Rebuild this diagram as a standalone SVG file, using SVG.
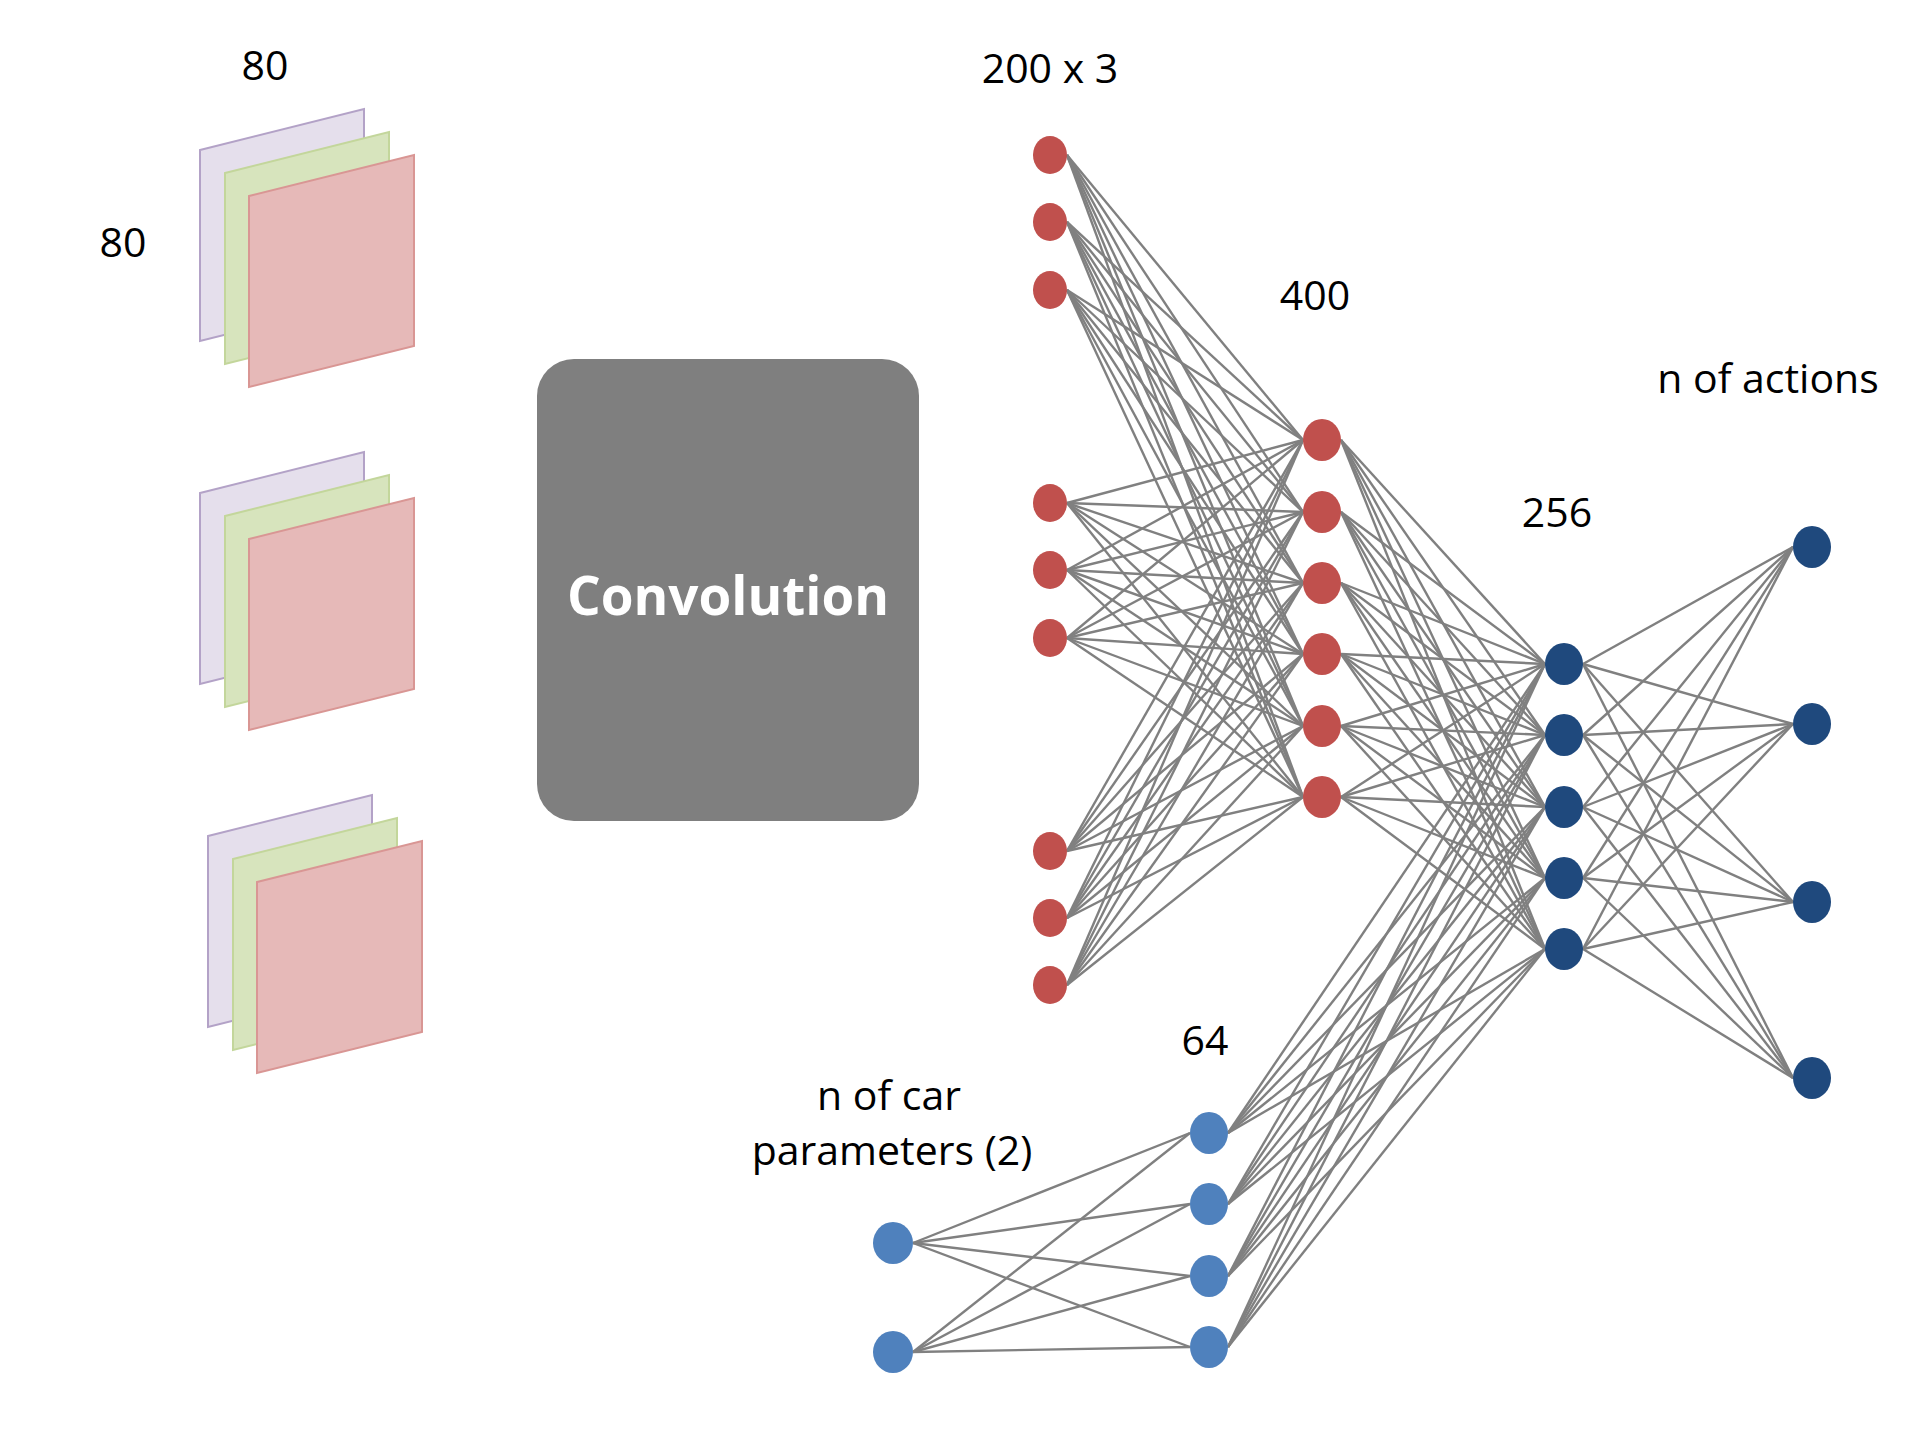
<svg xmlns="http://www.w3.org/2000/svg" xmlns:xlink="http://www.w3.org/1999/xlink" width="1920" height="1440" viewBox="0 0 1920 1440">
<style>
.lbl{font-family:"Open Sans","Liberation Sans",sans-serif;font-size:41px;fill:#000;text-anchor:middle}
.conv{font-family:"Open Sans","Liberation Sans",sans-serif;font-size:53px;font-weight:bold;fill:#fff;text-anchor:middle}
.e{stroke:#808080;stroke-width:2.4;fill:none}
.red{fill:#c0504d}
.dark{fill:#1f497d}
.light{fill:#4f81bd}
.pp{fill:#e5dfec;stroke:#b3a2c7;stroke-width:2}
.pg{fill:#d7e4bd;stroke:#c3d69b;stroke-width:2}
.pr{fill:#e6b9b8;stroke:#d99694;stroke-width:2}
</style>
<defs>
<g id="stack">
<polygon class="pp" points="200,150 364,109 364,300 200,341"/>
<polygon class="pg" points="225,173 389,132 389,323 225,364"/>
<polygon class="pr" points="249,196 414,155 414,346 249,387"/>
</g>
</defs>
<rect width="1920" height="1440" fill="#fff"/>
<g id="frames">
<use xlink:href="#stack" href="#stack"/>
<use xlink:href="#stack" href="#stack" transform="translate(0,343)"/>
<use xlink:href="#stack" href="#stack" transform="translate(8,686)"/>
</g>
<g id="convolution">
<rect x="537" y="359" width="382" height="462" rx="37" ry="37" fill="#7f7f7f"/>
<text class="conv" x="728" y="615">Convolution</text>
</g>
<g id="connectors">
<line class="e" x1="1067" y1="155" x2="1303" y2="440"/><line class="e" x1="1067" y1="155" x2="1303" y2="512"/><line class="e" x1="1067" y1="155" x2="1303" y2="583"/><line class="e" x1="1067" y1="155" x2="1303" y2="654"/><line class="e" x1="1067" y1="155" x2="1303" y2="726"/><line class="e" x1="1067" y1="155" x2="1303" y2="797"/>
<line class="e" x1="1067" y1="222" x2="1303" y2="440"/><line class="e" x1="1067" y1="222" x2="1303" y2="512"/><line class="e" x1="1067" y1="222" x2="1303" y2="583"/><line class="e" x1="1067" y1="222" x2="1303" y2="654"/><line class="e" x1="1067" y1="222" x2="1303" y2="726"/><line class="e" x1="1067" y1="222" x2="1303" y2="797"/>
<line class="e" x1="1067" y1="290" x2="1303" y2="440"/><line class="e" x1="1067" y1="290" x2="1303" y2="512"/><line class="e" x1="1067" y1="290" x2="1303" y2="583"/><line class="e" x1="1067" y1="290" x2="1303" y2="654"/><line class="e" x1="1067" y1="290" x2="1303" y2="726"/><line class="e" x1="1067" y1="290" x2="1303" y2="797"/>
<line class="e" x1="1067" y1="503" x2="1303" y2="440"/><line class="e" x1="1067" y1="503" x2="1303" y2="512"/><line class="e" x1="1067" y1="503" x2="1303" y2="583"/><line class="e" x1="1067" y1="503" x2="1303" y2="654"/><line class="e" x1="1067" y1="503" x2="1303" y2="726"/><line class="e" x1="1067" y1="503" x2="1303" y2="797"/>
<line class="e" x1="1067" y1="570" x2="1303" y2="440"/><line class="e" x1="1067" y1="570" x2="1303" y2="512"/><line class="e" x1="1067" y1="570" x2="1303" y2="583"/><line class="e" x1="1067" y1="570" x2="1303" y2="654"/><line class="e" x1="1067" y1="570" x2="1303" y2="726"/><line class="e" x1="1067" y1="570" x2="1303" y2="797"/>
<line class="e" x1="1067" y1="638" x2="1303" y2="440"/><line class="e" x1="1067" y1="638" x2="1303" y2="512"/><line class="e" x1="1067" y1="638" x2="1303" y2="583"/><line class="e" x1="1067" y1="638" x2="1303" y2="654"/><line class="e" x1="1067" y1="638" x2="1303" y2="726"/><line class="e" x1="1067" y1="638" x2="1303" y2="797"/>
<line class="e" x1="1067" y1="851" x2="1303" y2="440"/><line class="e" x1="1067" y1="851" x2="1303" y2="512"/><line class="e" x1="1067" y1="851" x2="1303" y2="583"/><line class="e" x1="1067" y1="851" x2="1303" y2="654"/><line class="e" x1="1067" y1="851" x2="1303" y2="726"/><line class="e" x1="1067" y1="851" x2="1303" y2="797"/>
<line class="e" x1="1067" y1="918" x2="1303" y2="440"/><line class="e" x1="1067" y1="918" x2="1303" y2="512"/><line class="e" x1="1067" y1="918" x2="1303" y2="583"/><line class="e" x1="1067" y1="918" x2="1303" y2="654"/><line class="e" x1="1067" y1="918" x2="1303" y2="726"/><line class="e" x1="1067" y1="918" x2="1303" y2="797"/>
<line class="e" x1="1067" y1="985" x2="1303" y2="440"/><line class="e" x1="1067" y1="985" x2="1303" y2="512"/><line class="e" x1="1067" y1="985" x2="1303" y2="583"/><line class="e" x1="1067" y1="985" x2="1303" y2="654"/><line class="e" x1="1067" y1="985" x2="1303" y2="726"/><line class="e" x1="1067" y1="985" x2="1303" y2="797"/>
<line class="e" x1="1341" y1="440" x2="1545" y2="664"/><line class="e" x1="1341" y1="440" x2="1545" y2="735"/><line class="e" x1="1341" y1="440" x2="1545" y2="807"/><line class="e" x1="1341" y1="440" x2="1545" y2="878"/><line class="e" x1="1341" y1="440" x2="1545" y2="949"/>
<line class="e" x1="1341" y1="512" x2="1545" y2="664"/><line class="e" x1="1341" y1="512" x2="1545" y2="735"/><line class="e" x1="1341" y1="512" x2="1545" y2="807"/><line class="e" x1="1341" y1="512" x2="1545" y2="878"/><line class="e" x1="1341" y1="512" x2="1545" y2="949"/>
<line class="e" x1="1341" y1="583" x2="1545" y2="664"/><line class="e" x1="1341" y1="583" x2="1545" y2="735"/><line class="e" x1="1341" y1="583" x2="1545" y2="807"/><line class="e" x1="1341" y1="583" x2="1545" y2="878"/><line class="e" x1="1341" y1="583" x2="1545" y2="949"/>
<line class="e" x1="1341" y1="654" x2="1545" y2="664"/><line class="e" x1="1341" y1="654" x2="1545" y2="735"/><line class="e" x1="1341" y1="654" x2="1545" y2="807"/><line class="e" x1="1341" y1="654" x2="1545" y2="878"/><line class="e" x1="1341" y1="654" x2="1545" y2="949"/>
<line class="e" x1="1341" y1="726" x2="1545" y2="664"/><line class="e" x1="1341" y1="726" x2="1545" y2="735"/><line class="e" x1="1341" y1="726" x2="1545" y2="807"/><line class="e" x1="1341" y1="726" x2="1545" y2="878"/><line class="e" x1="1341" y1="726" x2="1545" y2="949"/>
<line class="e" x1="1341" y1="797" x2="1545" y2="664"/><line class="e" x1="1341" y1="797" x2="1545" y2="735"/><line class="e" x1="1341" y1="797" x2="1545" y2="807"/><line class="e" x1="1341" y1="797" x2="1545" y2="878"/><line class="e" x1="1341" y1="797" x2="1545" y2="949"/>
<line class="e" x1="1583" y1="664" x2="1793" y2="547"/><line class="e" x1="1583" y1="664" x2="1793" y2="724"/><line class="e" x1="1583" y1="664" x2="1793" y2="902"/><line class="e" x1="1583" y1="664" x2="1793" y2="1078"/>
<line class="e" x1="1583" y1="735" x2="1793" y2="547"/><line class="e" x1="1583" y1="735" x2="1793" y2="724"/><line class="e" x1="1583" y1="735" x2="1793" y2="902"/><line class="e" x1="1583" y1="735" x2="1793" y2="1078"/>
<line class="e" x1="1583" y1="807" x2="1793" y2="547"/><line class="e" x1="1583" y1="807" x2="1793" y2="724"/><line class="e" x1="1583" y1="807" x2="1793" y2="902"/><line class="e" x1="1583" y1="807" x2="1793" y2="1078"/>
<line class="e" x1="1583" y1="878" x2="1793" y2="547"/><line class="e" x1="1583" y1="878" x2="1793" y2="724"/><line class="e" x1="1583" y1="878" x2="1793" y2="902"/><line class="e" x1="1583" y1="878" x2="1793" y2="1078"/>
<line class="e" x1="1583" y1="949" x2="1793" y2="547"/><line class="e" x1="1583" y1="949" x2="1793" y2="724"/><line class="e" x1="1583" y1="949" x2="1793" y2="902"/><line class="e" x1="1583" y1="949" x2="1793" y2="1078"/>
<line class="e" x1="913" y1="1243" x2="1190" y2="1133"/><line class="e" x1="913" y1="1243" x2="1190" y2="1204"/><line class="e" x1="913" y1="1243" x2="1190" y2="1276"/><line class="e" x1="913" y1="1243" x2="1190" y2="1347"/>
<line class="e" x1="913" y1="1352" x2="1190" y2="1133"/><line class="e" x1="913" y1="1352" x2="1190" y2="1204"/><line class="e" x1="913" y1="1352" x2="1190" y2="1276"/><line class="e" x1="913" y1="1352" x2="1190" y2="1347"/>
<line class="e" x1="1228" y1="1133" x2="1545" y2="664"/><line class="e" x1="1228" y1="1133" x2="1545" y2="735"/><line class="e" x1="1228" y1="1133" x2="1545" y2="807"/><line class="e" x1="1228" y1="1133" x2="1545" y2="878"/><line class="e" x1="1228" y1="1133" x2="1545" y2="949"/>
<line class="e" x1="1228" y1="1204" x2="1545" y2="664"/><line class="e" x1="1228" y1="1204" x2="1545" y2="735"/><line class="e" x1="1228" y1="1204" x2="1545" y2="807"/><line class="e" x1="1228" y1="1204" x2="1545" y2="878"/><line class="e" x1="1228" y1="1204" x2="1545" y2="949"/>
<line class="e" x1="1228" y1="1276" x2="1545" y2="664"/><line class="e" x1="1228" y1="1276" x2="1545" y2="735"/><line class="e" x1="1228" y1="1276" x2="1545" y2="807"/><line class="e" x1="1228" y1="1276" x2="1545" y2="878"/><line class="e" x1="1228" y1="1276" x2="1545" y2="949"/>
<line class="e" x1="1228" y1="1347" x2="1545" y2="664"/><line class="e" x1="1228" y1="1347" x2="1545" y2="735"/><line class="e" x1="1228" y1="1347" x2="1545" y2="807"/><line class="e" x1="1228" y1="1347" x2="1545" y2="878"/><line class="e" x1="1228" y1="1347" x2="1545" y2="949"/>
</g>
<g id="input-layer">
<ellipse class="red" cx="1050" cy="155" rx="17" ry="19"/>
<ellipse class="red" cx="1050" cy="222" rx="17" ry="19"/>
<ellipse class="red" cx="1050" cy="290" rx="17" ry="19"/>
<ellipse class="red" cx="1050" cy="503" rx="17" ry="19"/>
<ellipse class="red" cx="1050" cy="570" rx="17" ry="19"/>
<ellipse class="red" cx="1050" cy="638" rx="17" ry="19"/>
<ellipse class="red" cx="1050" cy="851" rx="17" ry="19"/>
<ellipse class="red" cx="1050" cy="918" rx="17" ry="19"/>
<ellipse class="red" cx="1050" cy="985" rx="17" ry="19"/>
</g>
<g id="layer-400">
<ellipse class="red" cx="1322" cy="440" rx="19" ry="21"/>
<ellipse class="red" cx="1322" cy="512" rx="19" ry="21"/>
<ellipse class="red" cx="1322" cy="583" rx="19" ry="21"/>
<ellipse class="red" cx="1322" cy="654" rx="19" ry="21"/>
<ellipse class="red" cx="1322" cy="726" rx="19" ry="21"/>
<ellipse class="red" cx="1322" cy="797" rx="19" ry="21"/>
</g>
<g id="layer-256">
<ellipse class="dark" cx="1564" cy="664" rx="19" ry="21"/>
<ellipse class="dark" cx="1564" cy="735" rx="19" ry="21"/>
<ellipse class="dark" cx="1564" cy="807" rx="19" ry="21"/>
<ellipse class="dark" cx="1564" cy="878" rx="19" ry="21"/>
<ellipse class="dark" cx="1564" cy="949" rx="19" ry="21"/>
</g>
<g id="output-layer">
<ellipse class="dark" cx="1812" cy="547" rx="19" ry="21"/>
<ellipse class="dark" cx="1812" cy="724" rx="19" ry="21"/>
<ellipse class="dark" cx="1812" cy="902" rx="19" ry="21"/>
<ellipse class="dark" cx="1812" cy="1078" rx="19" ry="21"/>
</g>
<g id="car-input">
<ellipse class="light" cx="893" cy="1243" rx="20" ry="21"/>
<ellipse class="light" cx="893" cy="1352" rx="20" ry="21"/>
</g>
<g id="layer-64">
<ellipse class="light" cx="1209" cy="1133" rx="19" ry="21"/>
<ellipse class="light" cx="1209" cy="1204" rx="19" ry="21"/>
<ellipse class="light" cx="1209" cy="1276" rx="19" ry="21"/>
<ellipse class="light" cx="1209" cy="1347" rx="19" ry="21"/>
</g>
<g id="labels">
<text class="lbl" x="265" y="80">80</text>
<text class="lbl" x="123" y="257">80</text>
<text class="lbl" x="1050" y="83">200 x 3</text>
<text class="lbl" x="1315" y="310">400</text>
<text class="lbl" x="1557" y="527">256</text>
<text class="lbl" x="1768" y="393">n of actions</text>
<text class="lbl" x="1205" y="1055">64</text>
<text class="lbl" x="889" y="1110">n of car</text>
<text class="lbl" x="892" y="1165">parameters (2)</text>
</g>
</svg>
